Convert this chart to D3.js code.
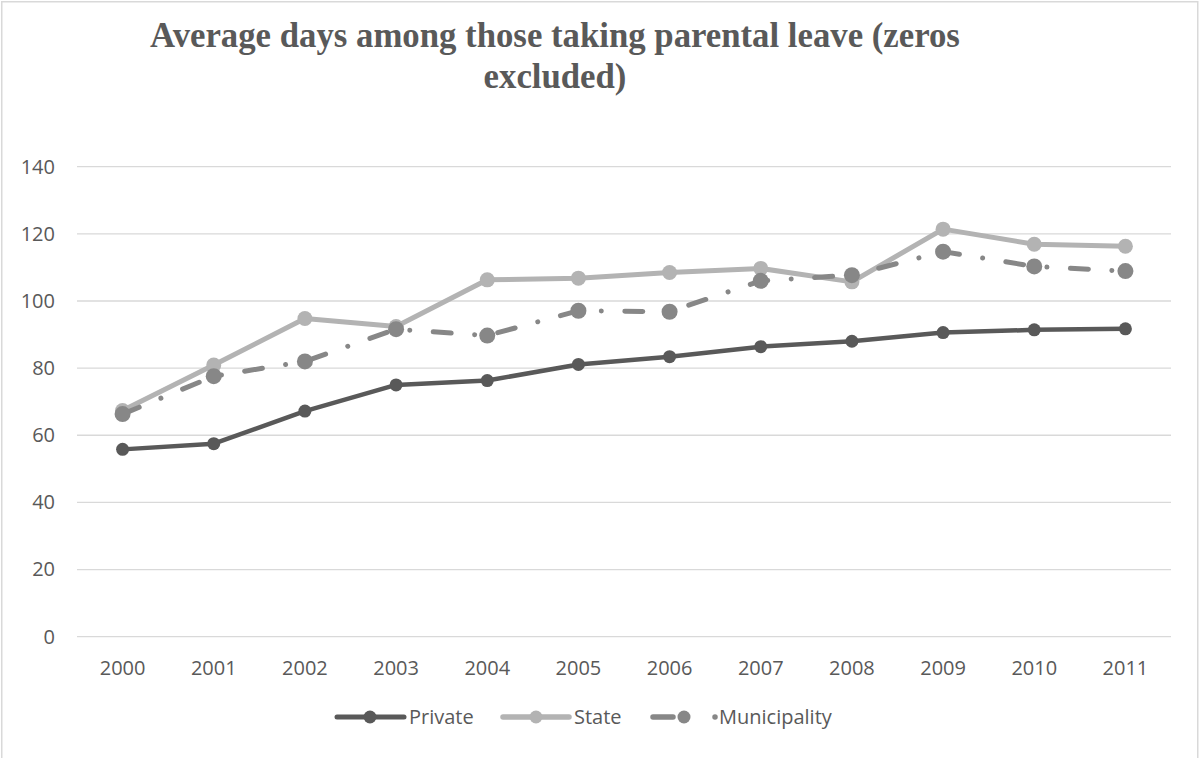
<!DOCTYPE html>
<html>
<head>
<meta charset="utf-8">
<script src="https://cdn.jsdelivr.net/npm/d3@7"></script>
<style>
  html, body { margin: 0; padding: 0; background: #ffffff; }
  svg { display: block; }
</style>
</head>
<body>
<svg id="chart" width="1201" height="758"></svg>
<script>
// Average days of parental leave, by sector (zeros excluded)
const years = ["2000", "2001", "2002", "2003", "2004", "2005", "2006", "2007", "2008", "2009", "2010", "2011"];
const privateDays = [55.8, 57.5, 67.2, 75.0, 76.3, 81.1, 83.4, 86.4, 88.0, 90.6, 91.4, 91.7];
const stateDays = [67.4, 80.9, 94.8, 92.4, 106.3, 106.8, 108.5, 109.7, 105.7, 121.4, 116.9, 116.3];
const municipalityDays = [66.3, 77.6, 82.0, 91.6, 89.7, 97.1, 96.8, 106.0, 107.7, 114.7, 110.3, 108.9];
const yTicks = [0, 20, 40, 60, 80, 100, 120, 140];
const titleLines = ["Average days among those taking parental leave (zeros", "excluded)"];

const series = [
  { name: "Private", values: privateDays, color: "#595959", width: 4.5, r: 6.5, dash: null },
  { name: "State", values: stateDays, color: "#b3b3b3", width: 5, r: 7.5, dash: null },
  { name: "Municipality", values: municipalityDays, color: "#878787", width: 5, r: 8, dash: "18 23.5 0.01 23.5" }
];

const svg = d3.select("#chart");
const labelFont = "'Open Sans', 'Noto Sans', sans-serif";
const textColor = "#595959";

// chart frame
svg.append("rect")
  .attr("x", 1.75).attr("y", 1.75)
  .attr("width", 1196).attr("height", 820)
  .attr("fill", "none")
  .attr("stroke", "#d9d9d9")
  .attr("stroke-width", 1.5);

// title: a bold serif, narrowed slightly so the first line spans ~810px
const titleCenter = 555;
const titleG = svg.append("g");
const title = titleG.append("text")
  .attr("text-anchor", "middle")
  .attr("fill", textColor)
  .style("font-family", "'Liberation Serif', 'DejaVu Serif', serif")
  .style("font-weight", "bold")
  .style("font-size", "36px");
titleLines.forEach((line, i) => {
  title.append("tspan")
    .attr("x", 0)
    .attr("y", 47 + i * 41)
    .text(line);
});
const firstLineWidth = title.select("tspan").node().getComputedTextLength();
const sx = Math.min(1, 810 / firstLineWidth);
titleG.attr("transform", `translate(${titleCenter},0) scale(${sx},1)`);

// scales
const x = d3.scaleBand().domain(years).range([77, 1171]);
const y = d3.scaleLinear().domain([0, 140]).range([636.7, 166.7]);
const cx = d => x(d) + x.bandwidth() / 2;

// horizontal gridlines
svg.append("g")
  .selectAll("line")
  .data(yTicks)
  .join("line")
  .attr("x1", 77).attr("x2", 1171)
  .attr("y1", d => y(d)).attr("y2", d => y(d))
  .attr("stroke", "#d9d9d9")
  .attr("stroke-width", 1.3);

// y axis labels
const yAxis = svg.append("g")
  .attr("transform", "translate(77,0)")
  .call(d3.axisLeft(y).tickValues(yTicks).tickSize(0).tickPadding(22));
yAxis.select(".domain").remove();
yAxis.selectAll("text")
  .attr("fill", textColor)
  .style("font-family", labelFont)
  .style("font-size", "20px");

// x axis labels
const xAxis = svg.append("g")
  .attr("transform", `translate(0,${y(0)})`)
  .call(d3.axisBottom(x).tickSize(0).tickPadding(24));
xAxis.select(".domain").remove();
xAxis.selectAll("text")
  .attr("fill", textColor)
  .style("font-family", labelFont)
  .style("font-size", "20px");

// series lines and markers
const lineGen = d3.line()
  .x((d, i) => cx(years[i]))
  .y(d => y(d));

series.forEach(s => {
  const g = svg.append("g");
  g.append("path")
    .datum(s.values)
    .attr("d", lineGen)
    .attr("fill", "none")
    .attr("stroke", s.color)
    .attr("stroke-width", s.width)
    .attr("stroke-linecap", "round")
    .attr("stroke-linejoin", "round")
    .attr("stroke-dasharray", s.dash);
  g.selectAll("circle")
    .data(s.values)
    .join("circle")
    .attr("cx", (d, i) => cx(years[i]))
    .attr("cy", d => y(d))
    .attr("r", s.r)
    .attr("fill", s.color);
});

// legend
const legendY = 717;
const legendItems = [
  { s: series[0], x0: 337, x1: 404, mx: 370, tx: 409, dash: null },
  { s: series[1], x0: 503, x1: 569, mx: 536, tx: 574, dash: null },
  { s: series[2], x0: 653, x1: 716, mx: 684, tx: 719, dash: "20 42 0.01 100" }
];
const legend = svg.append("g");
legendItems.forEach(item => {
  legend.append("line")
    .attr("x1", item.x0).attr("x2", item.x1)
    .attr("y1", legendY).attr("y2", legendY)
    .attr("stroke", item.s.color)
    .attr("stroke-width", item.s.width + 0.5)
    .attr("stroke-linecap", "round")
    .attr("stroke-dasharray", item.dash);
  legend.append("circle")
    .attr("cx", item.mx).attr("cy", legendY)
    .attr("r", 6.5)
    .attr("fill", item.s.color);
  legend.append("text")
    .attr("x", item.tx).attr("y", legendY)
    .attr("dy", "0.35em")
    .attr("fill", textColor)
    .style("font-family", labelFont)
    .style("font-size", "20px")
    .text(item.s.name);
});
</script>
</body>
</html>
